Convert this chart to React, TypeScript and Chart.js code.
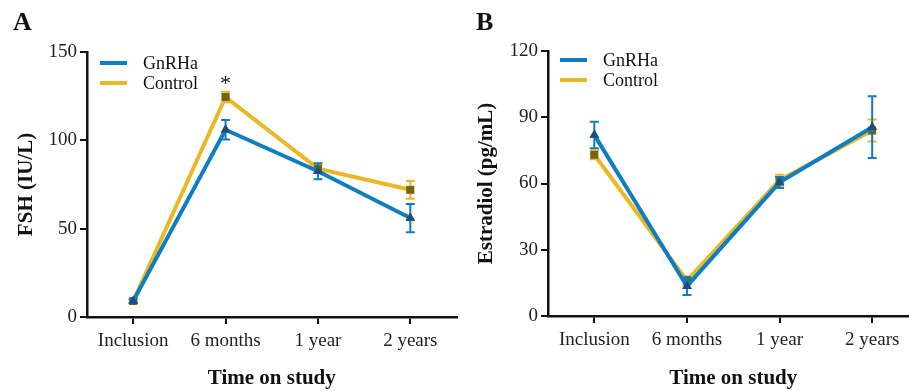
import React, { useEffect, useRef } from 'react';
import { Chart, registerables } from 'chart.js';
Chart.register(...registerables);

const categories = ['Inclusion', '6 months', '1 year', '2 years'];
const seriesNames = ['GnRHa', 'Control'];

const fshGnRHa = [9, 106, 82.5, 56];
const fshGnRHaErr = [1, 5.5, 4.5, 8];
const fshControl = [9, 124.5, 84, 72];
const fshControlErr = [1, 3, 2.5, 5];

const e2GnRHa = [82, 13.5, 60.5, 85.5];
const e2GnRHaErr = [6, 4, 2.5, 14];
const e2Control = [73, 16, 61.5, 84];
const e2ControlErr = [2, 2, 2.5, 5];

const fshTicks = { min: 0, max: 150, step: 50 };
const e2Ticks = { min: 0, max: 120, step: 30 };

const BLUE = '#0f7dc2';
const YELLOW = '#eab824';
const BLUE_MARK = '#1c4f7e';
const YELLOW_MARK = '#7a6210';
const FONT = "'Liberation Serif', 'Times New Roman', serif";

type PanelCfg = {
  width: number;
  height: number;
  padTop: number;
  padRight: number;
  yWidth: number;
  xHeight: number;
  yTitle: string;
  a: number[];
  aErr: number[];
  b: number[];
  bErr: number[];
  ticks: { min: number; max: number; step: number };
  legendX: number;
  legendY: number;
  star: number | null;
};

function makeChart(canvas: HTMLCanvasElement, cfg: PanelCfg) {
  const errs = [cfg.aErr, cfg.bErr];
  const colors = [BLUE, YELLOW];

  const errorBars = {
    id: 'errorBars',
    afterDatasetDraw(chart: any, args: any) {
      const idx = args.index;
      const ds = chart.data.datasets[idx];
      const meta = args.meta;
      const ys = chart.scales.y;
      const ctx = chart.ctx;
      ctx.save();
      ctx.strokeStyle = colors[idx];
      ctx.lineWidth = 2;
      meta.data.forEach((pt: any, i: number) => {
        const v = ds.data[i];
        const e = errs[idx][i];
        const top = ys.getPixelForValue(v + e);
        const bot = ys.getPixelForValue(v - e);
        const x = pt.x;
        ctx.beginPath();
        ctx.moveTo(x, top);
        ctx.lineTo(x, bot);
        ctx.moveTo(x - 4.5, top);
        ctx.lineTo(x + 4.5, top);
        ctx.moveTo(x - 4.5, bot);
        ctx.lineTo(x + 4.5, bot);
        ctx.stroke();
      });
      meta.data.forEach((pt: any) => pt.draw(ctx, chart.chartArea));
      ctx.restore();
    },
  };

  const legendAndMarks = {
    id: 'legendAndMarks',
    afterDraw(chart: any) {
      const ctx = chart.ctx;
      ctx.save();
      seriesNames.forEach((name, i) => {
        const y = cfg.legendY + i * 20;
        ctx.strokeStyle = colors[i];
        ctx.lineWidth = 4;
        ctx.beginPath();
        ctx.moveTo(cfg.legendX, y);
        ctx.lineTo(cfg.legendX + 27, y);
        ctx.stroke();
        ctx.fillStyle = '#111';
        ctx.font = `18px ${FONT}`;
        ctx.textBaseline = 'middle';
        ctx.textAlign = 'left';
        ctx.fillText(name, cfg.legendX + 43, y + 1);
      });
      if (cfg.star !== null) {
        const xs = chart.scales.x;
        const ys = chart.scales.y;
        const x = xs.getPixelForValue(cfg.star);
        const y = ys.getPixelForValue(cfg.b[cfg.star] + cfg.bErr[cfg.star]) - 2;
        ctx.fillStyle = '#111';
        ctx.font = `22px ${FONT}`;
        ctx.textAlign = 'center';
        ctx.textBaseline = 'alphabetic';
        ctx.fillText('*', x, y);
      }
      ctx.restore();
    },
  };

  return new Chart(canvas, {
    type: 'line',
    data: {
      labels: categories,
      datasets: [
        {
          label: seriesNames[0],
          data: cfg.a,
          borderColor: BLUE,
          borderWidth: 4,
          tension: 0,
          pointStyle: 'triangle',
          pointRadius: 5.5,
          pointBackgroundColor: BLUE_MARK,
          pointBorderWidth: 0,
          pointBorderColor: BLUE_MARK,
          clip: false as any,
        },
        {
          label: seriesNames[1],
          data: cfg.b,
          borderColor: YELLOW,
          borderWidth: 4,
          tension: 0,
          pointStyle: 'rect',
          pointRadius: 5.5,
          pointBackgroundColor: YELLOW_MARK,
          pointBorderWidth: 0,
          pointBorderColor: YELLOW_MARK,
          clip: false as any,
        },
      ],
    },
    options: {
      responsive: false,
      animation: false,
      events: [],
      layout: { padding: { top: cfg.padTop, right: cfg.padRight, left: 0, bottom: 0 } },
      plugins: { legend: { display: false }, tooltip: { enabled: false } },
      scales: {
        x: {
          type: 'category',
          offset: true,
          afterFit: (s: any) => {
            s.height = cfg.xHeight;
          },
          grid: {
            display: true,
            drawOnChartArea: false,
            drawTicks: true,
            tickLength: 7,
            color: '#111',
            lineWidth: 2,
            offset: false,
          },
          border: { display: true, color: '#111', width: 2.5 },
          ticks: {
            color: '#222',
            font: { family: FONT, size: 19 },
            padding: 6,
            maxRotation: 0,
            autoSkip: false,
          },
          title: {
            display: true,
            text: 'Time on study',
            color: '#111',
            font: { family: FONT, size: 21, weight: 'bold' },
            padding: { top: 0, bottom: 0 },
          },
        },
        y: {
          type: 'linear',
          min: cfg.ticks.min,
          max: cfg.ticks.max,
          afterFit: (s: any) => {
            s.width = cfg.yWidth;
          },
          grid: {
            display: true,
            drawOnChartArea: false,
            drawTicks: true,
            tickLength: 7,
            color: '#111',
            lineWidth: 2,
          },
          border: { display: true, color: '#111', width: 2.5 },
          ticks: {
            stepSize: cfg.ticks.step,
            color: '#222',
            font: { family: FONT, size: 19 },
            padding: 3,
          },
          title: {
            display: true,
            text: cfg.yTitle,
            color: '#111',
            font: { family: FONT, size: 21, weight: 'bold' },
            padding: { top: 14, bottom: 0 },
          },
        },
      },
    },
    plugins: [errorBars, legendAndMarks],
  } as any);
}

function Panel({ cfg, left }: { cfg: PanelCfg; left: number }) {
  const ref = useRef<HTMLCanvasElement | null>(null);
  useEffect(() => {
    if (!ref.current) return;
    const ch = makeChart(ref.current, cfg);
    return () => ch.destroy();
  }, []);
  return (
    <canvas
      ref={ref}
      width={cfg.width}
      height={cfg.height}
      style={{ position: 'absolute', left, top: 0, width: cfg.width, height: cfg.height }}
    />
  );
}

const panelA: PanelCfg = {
  width: 462,
  height: 391,
  padTop: 52,
  padRight: 0,
  yWidth: 87,
  xHeight: 74,
  yTitle: 'FSH (IU/L)',
  a: fshGnRHa,
  aErr: fshGnRHaErr,
  b: fshControl,
  bErr: fshControlErr,
  ticks: fshTicks,
  legendX: 100,
  legendY: 63,
  star: 1,
};

const panelB: PanelCfg = {
  width: 464,
  height: 391,
  padTop: 51,
  padRight: 0,
  yWidth: 88,
  xHeight: 75,
  yTitle: 'Estradiol (pg/mL)',
  a: e2GnRHa,
  aErr: e2GnRHaErr,
  b: e2Control,
  bErr: e2ControlErr,
  ticks: e2Ticks,
  legendX: 100,
  legendY: 60,
  star: null,
};

export default function App() {
  const letter: React.CSSProperties = {
    position: 'absolute',
    top: 7,
    fontFamily: FONT,
    fontWeight: 'bold',
    fontSize: 26,
    color: '#111',
    lineHeight: '30px',
  };
  return (
    <div
      style={{
        position: 'absolute',
        left: 0,
        top: 0,
        width: 909,
        height: 391,
        overflow: 'hidden',
        background: '#fff',
      }}
    >
      <Panel cfg={panelB} left={460} />
      <Panel cfg={panelA} left={0} />
      <div style={{ ...letter, left: 13 }}>A</div>
      <div style={{ ...letter, left: 476 }}>B</div>
    </div>
  );
}
